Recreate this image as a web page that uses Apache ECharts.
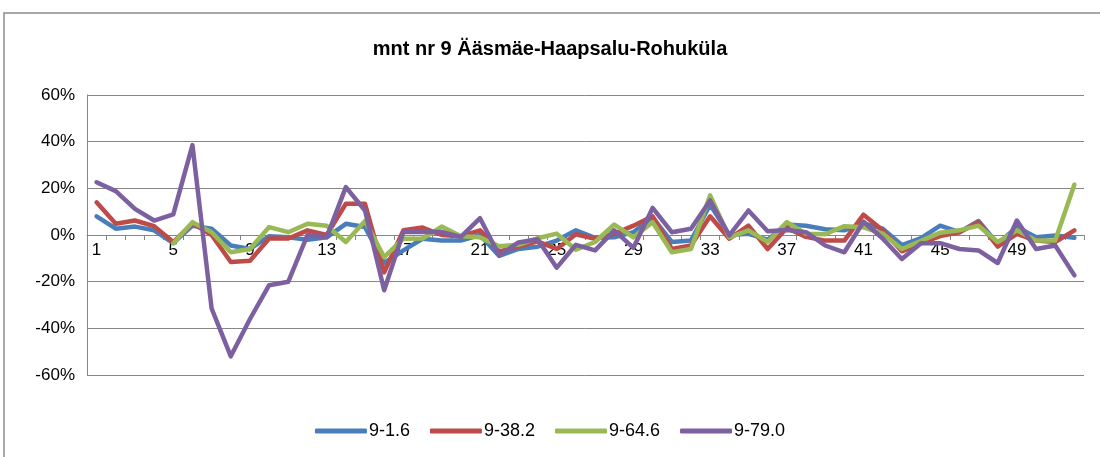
<!DOCTYPE html>
<html>
<head>
<meta charset="utf-8">
<script src="https://cdn.jsdelivr.net/npm/echarts@6/dist/echarts.min.js"></script>
<style>
    html, body { margin: 0; padding: 0; background: #fff; }
    #chart { width: 1100px; height: 457px; }
</style>
</head>
<body>
<div id="chart"></div>
<script>
// measurement points 1..52
const categories = [];
for (let i = 1; i <= 52; i++) categories.push(String(i));

const yTicks = [-60, -40, -20, 0, 20, 40, 60];

const s_1_6 = [8, 2.7, 3.6, 2, -3.5, 4, 2.7, -4.5, -6, -0.5, -1, -2, -1, 4.8, 3.4, -12, -6.6, -1.6, -2.4, -2.4,
    0, -9, -6, -5, -2.4, 2, -1.2, -1, 1.2, 7.6, -3, -2.4, 13, 0, 0.5, -2, 4.5, 4, 2.5, 2,
    5, 2.7, -4.3, -1.3, 4, 1.2, 6, -3.8, 3.4, -1, -0.2, -1.2];

const s_38_2 = [14, 4.8, 6.2, 3.8, -3, 5, 0, -11.6, -11, -1.5, -1.5, 2, 0, 13.4, 13.4, -16, 2, 3.2, 0, -0.5,
    2, -7, -5, -2.7, -6, 0.3, -1.6, 0.5, 4, 8, -6, -4.5, 8, -1.6, 4, -6, 3, -0.8, -2.4, -2.4,
    8.7, 2, -7, -3.5, -0.5, 1.2, 5.5, -5, 0.5, -2.4, -3, 2];

const s_64_6 = [null, null, null, null, -3.5, 5.5, 1.2, -7.4, -6, 3.4, 1.2, 4.8, 4, -3, 6, -9.5, -1.6, -1.5, 3.6, -0.5,
    -1, -4.8, -4.2, -1.4, 0.6, -6.3, -3, 4.5, -1, 5.5, -7.4, -6, 17, -1, 2, -3, 5.5, 0.5, 0.3, 3.8,
    3.3, 0.6, -6, -2.5, 1, 2, 4, -3, 2, -2.4, -2.4, 21.6];

const s_79_0 = [22.6, 18.8, 11.2, 6.2, 8.8, 38.5, -31.5, -52, -36, -21.5, -20, 0, -1, 20.5, 10.5, -23.7, 1.3, 1.4, 1.3, -0.8,
    7.2, -8.8, -3.2, -1.8, -14, -4.2, -6.6, 2, -5.5, 11.6, 1.2, 2.7, 14.8, -0.2, 10.5, 1.6, 2.1, 1.2, -4.5, -7.4,
    5.7, -1.5, -10.3, -3.5, -3.5, -6, -6.6, -12, 6.2, -6, -4.5, -17.3];

const font = 'Liberation Sans';
const plotTop = 95, plotBottom = 82, plotHeight = 457 - plotTop - plotBottom;

function line(name, data, color) {
    return {
        name: name,
        type: 'line',
        data: data,
        showSymbol: false,
        symbol: 'none',
        connectNulls: false,
        color: color,
        lineStyle: { width: 4.5, color: color, cap: 'round', join: 'round' }
    };
}

const chart = echarts.init(document.getElementById('chart'));
chart.setOption({
    animation: false,
    backgroundColor: '#fff',
    textStyle: { fontFamily: font },
    graphic: [{
        type: 'rect',
        shape: { x: 4, y: 13, width: 1200, height: 600 },
        style: { fill: 'none', stroke: '#8c8c8c', lineWidth: 1.5 },
        z: -1
    }],
    title: {
        text: 'mnt nr 9 Ääsmäe-Haapsalu-Rohuküla',
        left: 'center',
        top: 34,
        textStyle: { fontFamily: font, fontSize: 20, fontWeight: 'bold', color: '#000' }
    },
    legend: {
        bottom: 12,
        left: 'center',
        itemWidth: 52,
        itemHeight: 5,
        itemGap: 20,
        icon: 'roundRect',
        textStyle: { fontFamily: font, fontSize: 18, color: '#000', padding: [0, 0, 0, -3] },
        data: ['9-1.6', '9-38.2', '9-64.6', '9-79.0']
    },
    grid: { left: 87, right: 16, top: plotTop, bottom: plotBottom },
    xAxis: {
        type: 'category',
        data: categories,
        boundaryGap: true,
        position: 'bottom',
        // the axis crosses at 0%, labels sit just under that line
        offset: -plotHeight / 2,
        axisLine: { onZero: false, lineStyle: { color: '#868686', width: 1 } },
        axisTick: { show: true, interval: 0, length: 5, lineStyle: { color: '#868686' } },
        axisLabel: { interval: 3, fontSize: 17, color: '#000', margin: 7, fontFamily: font },
        splitLine: { show: false }
    },
    yAxis: {
        type: 'value',
        min: yTicks[0],
        max: yTicks[yTicks.length - 1],
        interval: 20,
        axisLine: { show: true, lineStyle: { color: '#868686', width: 1 } },
        axisTick: { show: false },
        axisLabel: { formatter: '{value}%', fontSize: 17, color: '#000', margin: 12, fontFamily: font },
        splitLine: { lineStyle: { color: '#868686', width: 1 } }
    },
    series: [
        line('9-1.6', s_1_6, '#4a7ebb'),
        line('9-38.2', s_38_2, '#be4b48'),
        line('9-64.6', s_64_6, '#98b954'),
        line('9-79.0', s_79_0, '#7d60a0')
    ]
});
</script>
</body>
</html>
